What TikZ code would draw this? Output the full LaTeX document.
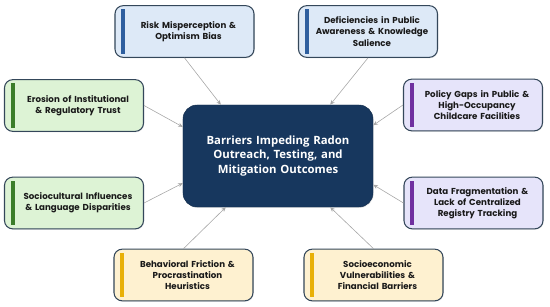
\documentclass[tikz,border=0pt]{standalone}
\usepackage{fontspec}
\setmainfont{Poppins}
\newfontfamily\hubfont{Open Sans}
\usepackage{tikz}
\usetikzlibrary{arrows.meta, positioning, calc, shadows}

\definecolor{bluefill}{HTML}{DDE9F7}
\definecolor{bluebar}{HTML}{2E5E9E}
\definecolor{greenfill}{HTML}{DDF3D5}
\definecolor{greenbar}{HTML}{3B7D2A}
\definecolor{purplefill}{HTML}{E6E4FA}
\definecolor{purplebar}{HTML}{7030A0}
\definecolor{yellowfill}{HTML}{FEF1D0}
\definecolor{yellowbar}{HTML}{E8B008}
\definecolor{hubnavy}{HTML}{17375E}
\definecolor{edgegray}{HTML}{34475A}

\begin{document}
\begin{tikzpicture}[
    x=0.03cm, y=-0.03cm,
    every node/.style={font=\fontsize{7.4}{9.6}\selectfont\bfseries},
    card/.style={rectangle, rounded corners=7pt, draw=edgegray, line width=0.9pt,
        minimum width=4.17cm, minimum height=1.55cm, inner sep=0pt,
        drop shadow={opacity=0.18, shadow xshift=0.6pt, shadow yshift=-0.8pt}},
    lbl/.style={text width=3.6cm, align=center, text=black!90},
    hub/.style={rectangle, rounded corners=12pt, fill=hubnavy, draw=hubnavy!80!black,
        minimum width=5.7cm, minimum height=3.06cm, text width=5.2cm, align=center,
        text=white, font=\hubfont\fontsize{9.7}{12.5}\selectfont\bfseries,
        drop shadow={opacity=0.2, shadow xshift=0.6pt, shadow yshift=-0.8pt}},
    feed/.style={draw=black!35, line width=0.5pt, -{Stealth[length=4pt, width=3.5pt]}}
]
\useasboundingbox (0,0) rectangle (550,307);

% centre
\node[hub] (hub) at (278,156) {Barriers Impeding Radon\\Outreach, Testing, and\\Mitigation Outcomes};

% surrounding barriers
\foreach \nm/\x/\y/\clr/\txt in {
    risk/184.5/31.5/blue/{Risk Misperception \&\\Optimism Bias},
    aware/368/31.5/blue/{Deficiencies in Public\\Awareness \& Knowledge\\Salience},
    trust/74/105.5/green/{Erosion of Institutional\\\& Regulatory Trust},
    policy/473/105/purple/{Policy Gaps in Public \&\\High-Occupancy\\Childcare Facilities},
    culture/74/203/green/{Sociocultural Influences\\\& Language Disparities},
    data/473.5/203/purple/{Data Fragmentation \&\\Lack of Centralized\\Registry Tracking},
    behav/183.5/275/yellow/{Behavioral Friction \&\\Procrastination\\Heuristics},
    econ/373.5/275/yellow/{Socioeconomic\\Vulnerabilities \&\\Financial Barriers}}{
    \node[card, fill=\clr fill] (\nm) at (\x,\y) {};
    \fill[\clr bar] ($(\nm.north west)+(7,4)$) rectangle ($(\nm.south west)+(11,-4)$);
    \node[lbl] (\nm-txt) at ($(\nm.center)+(4,0)$) {\txt};
}

% arrow ends on the centre box
\coordinate (hub-n1) at ($(hub.north west)!0.20!(hub.north east)$);
\coordinate (hub-n2) at ($(hub.north west)!0.774!(hub.north east)$);
\coordinate (hub-w1) at ($(hub.north west)!0.216!(hub.south west)$);
\coordinate (hub-w2) at ($(hub.north west)!0.765!(hub.south west)$);
\coordinate (hub-e1) at ($(hub.north east)!0.20!(hub.south east)$);
\coordinate (hub-e2) at ($(hub.north east)!0.78!(hub.south east)$);
\coordinate (hub-s1) at ($(hub.south west)!0.226!(hub.south east)$);
\coordinate (hub-s2) at ($(hub.south west)!0.774!(hub.south east)$);

\draw[feed] (risk.south) -- (hub-n1);
\draw[feed] (aware.south) -- (hub-n2);
\draw[feed] (trust.east) -- (hub-w1);
\draw[feed] (culture.east) -- (hub-w2);
\draw[feed] (policy.west) -- (hub-e1);
\draw[feed] (data.west) -- (hub-e2);
\draw[feed] (behav.north) -- (hub-s1);
\draw[feed] (econ.north) -- (hub-s2);
\end{tikzpicture}
\end{document}
